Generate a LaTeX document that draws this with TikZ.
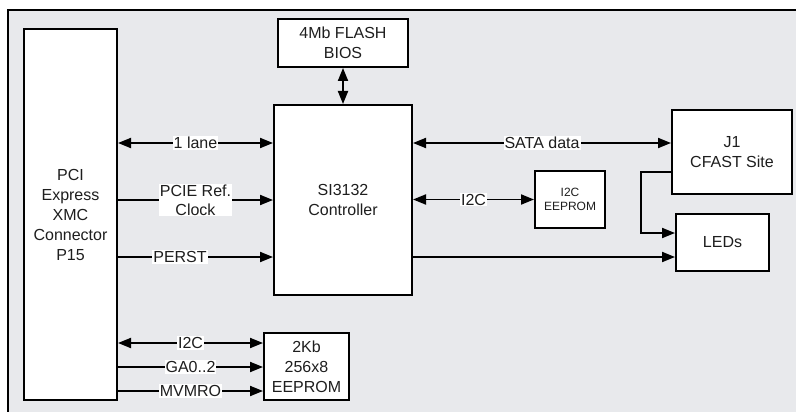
\documentclass[tikz,border=0pt]{standalone}
\usepackage{fontspec}
\setmainfont{Liberation Sans}
\usetikzlibrary{positioning,arrows.meta}
\definecolor{panelgray}{RGB}{232,233,236}
\definecolor{inkgray}{RGB}{30,30,30}

\begin{document}
\begin{tikzpicture}[x=1pt,y=-1pt,
  block/.style={draw, line width=2pt, fill=white, text=inkgray, align=center, inner sep=0pt, font=\fontsize{16}{20}\selectfont},
  wire/.style={line width=1.9pt, -{Triangle[length=13pt,width=10pt]}},
  bus/.style={line width=1.9pt, {Triangle[length=13pt,width=10pt]}-{Triangle[length=13pt,width=10pt]}},
  tag/.style={fill=white, text=inkgray, inner sep=1pt, align=center, font=\fontsize{16}{19}\selectfont}]
\clip (0,0) rectangle (796,412);
% Board outline
\draw[fill=panelgray, line width=1.6pt] (8,10) rectangle (802,418);

% Blocks
\node[block, minimum width=93pt, minimum height=371pt] (pci) at (70.5,214.5) {PCI\\Express\\XMC\\Connector\\P15};
\node[block, minimum width=130pt, minimum height=48pt] (flash) at (343,43) {4Mb FLASH\\BIOS};
\node[block, minimum width=138pt, minimum height=190pt] (ctrl) at (343,200) {SI3132\\Controller};
\node[block, minimum width=120pt, minimum height=84pt] (cfast) at (732,152) {J1\\CFAST Site};
\node[block, minimum width=70pt, minimum height=57pt, font=\fontsize{12}{14}\selectfont] (i2crom) at (570,199.5) {I2C\\EEPROM};
\node[block, minimum width=93pt, minimum height=57pt] (leds) at (722.5,242.5) {LEDs};
\node[block, minimum width=85pt, minimum height=67pt] (idrom) at (306.5,366.5) {2Kb\\256x8\\EEPROM};

% Signal rows
\coordinate (lane) at (0,143);
\coordinate (refclk) at (0,200);
\coordinate (perst) at (0,257);
\coordinate (smb) at (0,343);
\coordinate (geo) at (0,367);
\coordinate (mvmro) at (0,391);
\coordinate (ledtop) at ([yshift=9.5pt]leds.west);
\coordinate (ledlow) at ([yshift=-14.5pt]leds.west);

% Connectors
\draw[bus] (flash) -- (ctrl);
\draw[bus] (pci.east |- lane) -- node[tag] {1 lane} (ctrl.west |- lane);
\draw[wire] (pci.east |- refclk) -- node[tag] {PCIE Ref.\\Clock} (ctrl.west |- refclk);
\draw[wire] (pci.east |- perst) -- node[tag, pos=0.4] {PERST} (ctrl.west |- perst);
\draw[bus] (ctrl.east |- lane) -- node[tag] {SATA data} (cfast.west |- lane);
\draw[bus] (ctrl.east |- i2crom) -- node[tag] {I2C} (i2crom);
\draw[wire] ([yshift=-20pt]cfast.west) -- ++(-30,0) |- (ledtop);
\draw[wire] (ctrl.east |- ledlow) -- (ledlow);
\draw[bus] (pci.east |- smb) -- node[tag] {I2C} (idrom.west |- smb);
\draw[wire] (pci.east |- geo) -- node[tag] {GA0..2} (idrom.west |- geo);
\draw[wire] (pci.east |- mvmro) -- node[tag] {MVMRO} (idrom.west |- mvmro);
\end{tikzpicture}
\end{document}
